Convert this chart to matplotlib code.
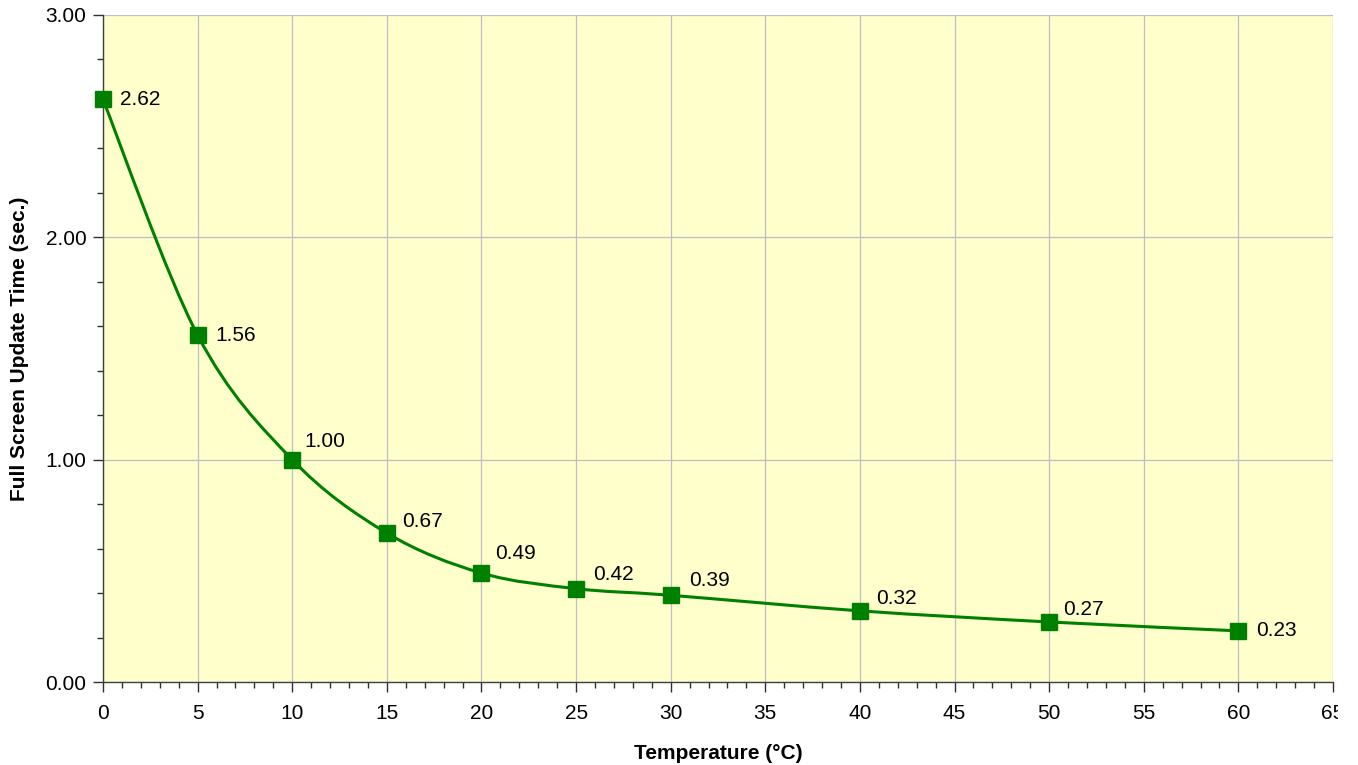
import matplotlib
matplotlib.use("Agg")
import matplotlib.pyplot as plt
from matplotlib.path import Path
from matplotlib.patches import PathPatch
from matplotlib.ticker import MultipleLocator, FormatStrFormatter
from matplotlib.transforms import Bbox, TransformedBbox

temps = [0, 5, 10, 15, 20, 25, 30, 40, 50, 60]
update_time = [2.62, 1.56, 1.00, 0.67, 0.49, 0.42, 0.39, 0.32, 0.27, 0.23]

# label offsets in points (moved by hand in the original)
label_offsets = [(12, 0), (13, 0), (9, 13), (11, 8), (10, 14),
                 (12, 10), (13, 11), (12, 9), (10, 9), (13, 0)]

plt.rcParams["font.family"] = ["Liberation Sans", "DejaVu Sans"]
green = "#008000"
fs = 15

fig = plt.figure(figsize=(13.58, 7.65), dpi=100)
ax = fig.add_axes([103 / 1358, 1 - 682 / 765, 1230 / 1358, 667 / 765])
ax.set_facecolor("#FFFFCC")
ax.set_xlim(0, 65)
ax.set_ylim(0, 3)

# smoothed line (bezier through the points, like excel "smoothed line")
pts = ax.transData.transform(list(zip(temps, update_time)))
n = len(pts)
verts = [tuple(pts[0])]
codes = [Path.MOVETO]
for i in range(n - 1):
    p0 = pts[i - 1] if i > 0 else pts[i]
    p1 = pts[i]
    p2 = pts[i + 1]
    p3 = pts[i + 2] if i + 2 < n else pts[i + 1]
    c1 = p1 + (p2 - p0) / 6
    c2 = p2 - (p3 - p1) / 6
    verts += [tuple(c1), tuple(c2), tuple(p2)]
    codes += [Path.CURVE4] * 3
inv = ax.transData.inverted()
verts = inv.transform(verts)
ax.add_patch(PathPatch(Path(verts, codes), facecolor="none", edgecolor=green,
                       lw=2.2, zorder=3, clip_on=False))

ax.plot(temps, update_time, ls="none", marker="s", ms=11, color=green,
        zorder=4, clip_on=False)

for x, y, (dx, dy) in zip(temps, update_time, label_offsets):
    ax.annotate(f"{y:.2f}", (x, y), xytext=(dx, dy), textcoords="offset points",
                ha="left", va="center", fontsize=fs, color="black", zorder=5)

ax.xaxis.set_major_locator(MultipleLocator(5))
ax.xaxis.set_minor_locator(MultipleLocator(1))
ax.yaxis.set_major_locator(MultipleLocator(1))
ax.yaxis.set_minor_locator(MultipleLocator(0.2))
ax.yaxis.set_major_formatter(FormatStrFormatter("%.2f"))
ax.grid(which="major", color="#BDBDC8", lw=0.9)
ax.set_axisbelow(True)

for s in ["top", "right"]:
    ax.spines[s].set_visible(False)
for s in ["left", "bottom"]:
    ax.spines[s].set_color("#404040")
    ax.spines[s].set_linewidth(1.0)

ax.tick_params(which="major", length=7, width=1, color="#303030",
               labelsize=fs, pad=5)
ax.tick_params(which="minor", length=4.5, width=1, color="#303030")
ax.tick_params(axis="x", pad=9)

ax.set_xlabel("Temperature (°C)", fontsize=fs, fontweight="bold", labelpad=15)
ax.set_ylabel("Full Screen Update Time (sec.)", fontsize=fs, fontweight="bold")
ax.yaxis.set_label_coords(-83 / 1230, 0.5)
ax.yaxis.label.set_va("center")

# the last tick label is cut by the chart border in the original
fig.canvas.draw()
clip = TransformedBbox(Bbox([[0, 0], [1338 / 1358, 1]]), fig.transFigure)
for lab in ax.get_xticklabels():
    lab.set_clip_on(True)
    lab.set_clip_box(clip)

fig.savefig("out.png", dpi=100)
